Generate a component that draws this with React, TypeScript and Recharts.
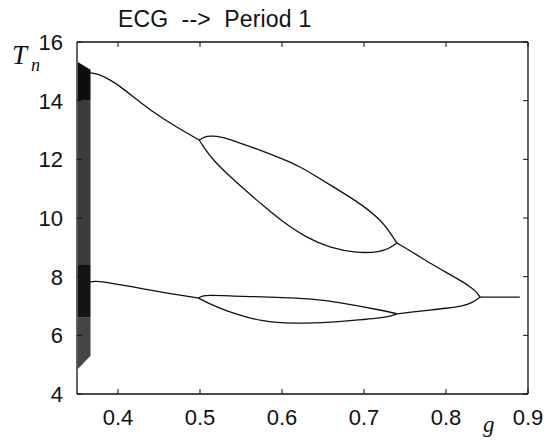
import { ComposedChart, Line, Area, XAxis, YAxis, ReferenceLine } from 'recharts';

// bifurcation diagram: period T_n against coupling g
const xTicks = [0.4, 0.5, 0.6, 0.7, 0.8, 0.9];
const yTicks = [4, 6, 8, 10, 12, 14, 16];

// chaotic band at the left edge, split into layers by density
const bandG = [0.351, 0.3665];
const bandLow = [
  [14.0, 14.0],
  [8.4, 8.4],
  [6.6, 6.6],
  [4.85, 5.3],
];
const bandHigh = [
  [15.32, 15.05],
  [14.0, 14.0],
  [8.4, 8.4],
  [6.6, 6.6],
];

// branches as [g, T] pairs
const upperStem: [number, number][] = [
  [0.366, 14.95], [0.372, 14.92], [0.378, 14.88], [0.39, 14.72], [0.402, 14.5], [0.42, 14.1],
  [0.439, 13.68], [0.47, 13.12], [0.499, 12.66],
];
const upperTop: [number, number][] = [
  [0.499, 12.66], [0.505, 12.76], [0.512, 12.8], [0.525, 12.78], [0.549, 12.55], [0.577, 12.28],
  [0.6, 12.02], [0.62, 11.78], [0.64, 11.45], [0.659, 11.12], [0.699, 10.44], [0.723, 9.86],
  [0.733, 9.45], [0.74, 9.15],
];
const upperBottom: [number, number][] = [
  [0.499, 12.66], [0.506, 12.35], [0.516, 11.98], [0.535, 11.45], [0.557, 10.9], [0.578, 10.4],
  [0.598, 9.93], [0.63, 9.32], [0.659, 8.98], [0.691, 8.8], [0.72, 8.84], [0.732, 8.98], [0.74, 9.15],
];
const upperTail: [number, number][] = [
  [0.74, 9.15], [0.76, 8.82], [0.78, 8.47], [0.8, 8.15], [0.821, 7.82], [0.832, 7.6], [0.838, 7.46], [0.8415, 7.3],
];
const lowerStem: [number, number][] = [
  [0.365, 7.82], [0.372, 7.84], [0.378, 7.84], [0.398, 7.75], [0.418, 7.65], [0.44, 7.54],
  [0.46, 7.44], [0.48, 7.35], [0.498, 7.27],
];
const lowerTop: [number, number][] = [
  [0.498, 7.27], [0.503, 7.34], [0.509, 7.37], [0.54, 7.34], [0.577, 7.31], [0.61, 7.28],
  [0.638, 7.24], [0.67, 7.12], [0.699, 6.97], [0.72, 6.86], [0.735, 6.77], [0.74, 6.73],
];
const lowerBottom: [number, number][] = [
  [0.498, 7.27], [0.51, 7.1], [0.524, 6.93], [0.54, 6.76], [0.557, 6.62], [0.575, 6.5],
  [0.594, 6.43], [0.615, 6.41], [0.638, 6.42], [0.66, 6.45], [0.679, 6.49], [0.7, 6.54],
  [0.72, 6.59], [0.732, 6.65], [0.74, 6.73],
];
const lowerTail: [number, number][] = [
  [0.74, 6.73], [0.76, 6.8], [0.78, 6.86], [0.8, 6.92], [0.821, 7.0], [0.833, 7.12], [0.8415, 7.3],
];
const period1: [number, number][] = [
  [0.8415, 7.3], [0.89, 7.3],
];

const branches = [upperStem, upperTop, upperBottom, upperTail, lowerStem, lowerTop, lowerBottom, lowerTail, period1];
const bandShades = ['#0d0d0d', '#3c3c3c', '#141414', '#454545'];

const W = 555;
const H = 442;
const MARGIN = { top: 42, right: 27, bottom: 0, left: 0 };
const X_AXIS_H = 48;
const Y_AXIS_W = 77;
const PLOT_TOP = MARGIN.top;
const PLOT_RIGHT = W - MARGIN.right;
const TICK = 5;
const INK = '#111';
const FONT = '"Liberation Sans", Arial, Helvetica, sans-serif';
const SERIF = '"Liberation Serif", "Times New Roman", serif';
const NBSP = '\u00a0';

const XTick = (props: any) => {
  const { x, y, payload } = props;
  return (
    <g>
      <line x1={x} x2={x} y1={y} y2={y - TICK} stroke={INK} />
      <line x1={x} x2={x} y1={PLOT_TOP} y2={PLOT_TOP + TICK} stroke={INK} />
      <text x={x} y={y + 31} textAnchor="middle" fontFamily={FONT} fontSize={22} fill={INK}>
        {Number(payload.value).toFixed(1)}
      </text>
    </g>
  );
};

const YTick = (props: any) => {
  const { x, y, payload } = props;
  return (
    <g>
      <line x1={x} x2={x + TICK} y1={y} y2={y} stroke={INK} />
      <line x1={PLOT_RIGHT - TICK} x2={PLOT_RIGHT} y1={y} y2={y} stroke={INK} />
      <text x={x - 14} y={y + 8} textAnchor="end" fontFamily={FONT} fontSize={22} fill={INK}>
        {payload.value}
      </text>
    </g>
  );
};

export default function App() {
  const bandData = bandLow.map((low, i) =>
    bandG.map((g, j) => ({ g, r: [low[j], bandHigh[i][j]] }))
  );
  const lineData = branches.map((b) => b.map(([g, t]) => ({ g, t })));

  return (
    <div style={{ position: 'absolute', left: 0, top: 0, width: W, height: H, background: '#fff' }}>
      <ComposedChart width={W} height={H} margin={MARGIN}>
        <XAxis
          dataKey="g"
          type="number"
          domain={[0.35, 0.9]}
          ticks={xTicks}
          allowDataOverflow
          height={X_AXIS_H}
          tickSize={0}
          tickMargin={0}
          tickLine={false}
          axisLine={{ stroke: INK, strokeWidth: 1.3 }}
          tick={<XTick />}
          interval={0}
        />
        <YAxis
          type="number"
          domain={[4, 16]}
          ticks={yTicks}
          allowDataOverflow
          width={Y_AXIS_W}
          tickSize={0}
          tickMargin={0}
          tickLine={false}
          axisLine={{ stroke: INK, strokeWidth: 1.3 }}
          tick={<YTick />}
          interval={0}
        />
        <ReferenceLine y={16} stroke={INK} strokeWidth={1.3} />
        <ReferenceLine x={0.9} stroke={INK} strokeWidth={1.3} />
        {bandData.map((d, i) => (
          <Area
            key={`band-${i}`}
            data={d}
            dataKey="r"
            type="linear"
            stroke="none"
            fill={bandShades[i]}
            fillOpacity={1}
            isAnimationActive={false}
            dot={false}
            activeDot={false}
          />
        ))}
        {lineData.map((d, i) => (
          <Line
            key={`branch-${i}`}
            data={d}
            dataKey="t"
            type="basis"
            stroke={INK}
            strokeWidth={1.3}
            dot={false}
            activeDot={false}
            isAnimationActive={false}
          />
        ))}
      </ComposedChart>
      <svg width={W} height={H} style={{ position: 'absolute', left: 0, top: 0, pointerEvents: 'none' }}>
        <text x={118} y={27} fontFamily={FONT} fontSize={23} letterSpacing={0.2} fill={INK}>
          {`ECG${NBSP}${NBSP}-->${NBSP}${NBSP}Period 1`}
        </text>
        <text x={12} y={64} fontFamily={SERIF} fontStyle="italic" fontSize={27} fill={INK}>
          T
        </text>
        <text x={31} y={71} fontFamily={SERIF} fontStyle="italic" fontSize={18} fill={INK}>
          n
        </text>
        <text x={483} y={432} fontFamily={SERIF} fontStyle="italic" fontSize={23} fill={INK}>
          g
        </text>
      </svg>
    </div>
  );
}
